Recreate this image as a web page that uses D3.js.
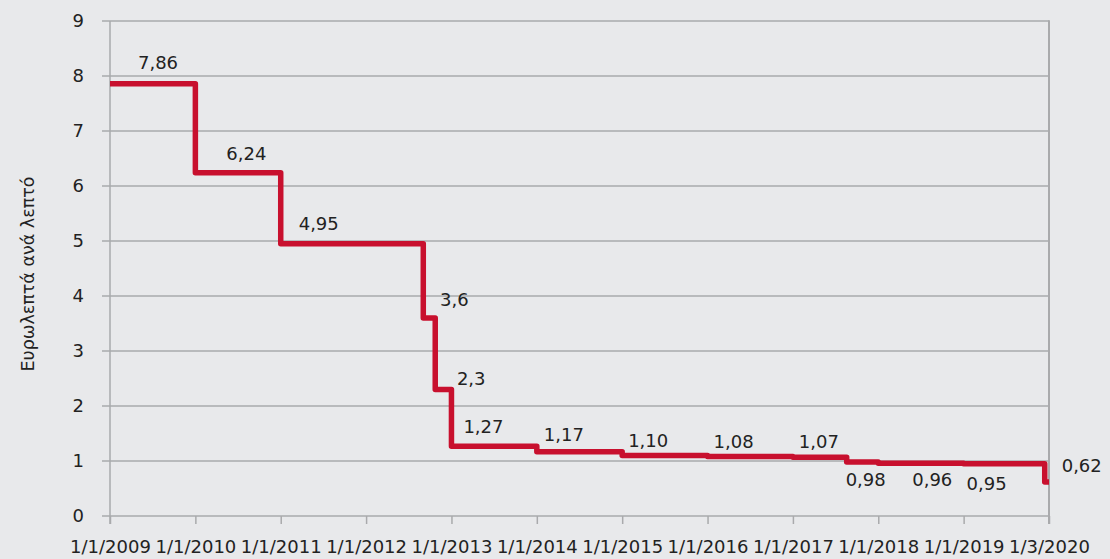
<!DOCTYPE html>
<html><head><meta charset="utf-8">
<script src="https://cdn.jsdelivr.net/npm/d3@7"></script>
<style>
html,body{margin:0;padding:0;background:#e8e9eb;}
svg{display:block;font-family:"DejaVu Sans",sans-serif;}
</style></head>
<body>
<svg id="c" width="1110" height="559"></svg>
<script>
// Data
const tickLabels = ["1/1/2009","1/1/2010","1/1/2011","1/1/2012","1/1/2013","1/1/2014","1/1/2015","1/1/2016","1/1/2017","1/1/2018","1/1/2019","1/3/2020"];
// step start positions (in axis units: 0 = 1/1/2009, 11 = 1/3/2020)
const stepStarts = [0, 1, 2, 3.67, 3.81, 4, 5, 6, 7, 8, 8.63, 9, 10, 10.95];
const stepValues = [7.86, 6.24, 4.95, 3.6, 2.3, 1.27, 1.17, 1.10, 1.08, 1.07, 0.98, 0.96, 0.95, 0.62];
const valueLabels = ["7,86","6,24","4,95","3,6","2,3","1,27","1,17","1,10","1,08","1,07","0,98","0,96","0,95","0,62"];
const yTicks = [0,1,2,3,4,5,6,7,8,9];
const endPos = 11;

// Layout for labels (dx from step start in px, dy from line in px)
const labelPlacement = [[48,-20],[51,-18],[38,-19],[31,-17],[36,-10],[32,-18],[27,-16],[26,-14],[26,-14],[26,-14],[19,19],[54,18],[23,21],[37,-15]];

const svg = d3.select("#c");
const x = d3.scaleLinear().domain([0, endPos]).range([110, 1049]);
const y = d3.scaleLinear().domain([0, 9]).range([516, 21]);
const gridCol = "#a9aaac";

// gridlines
svg.append("g").selectAll("line").data(yTicks).join("line")
  .attr("x1", 102).attr("x2", 1049)
  .attr("y1", d => y(d)).attr("y2", d => y(d))
  .attr("stroke", gridCol).attr("stroke-width", 1.5);

// left axis line
svg.append("line").attr("x1",110).attr("x2",110).attr("y1",y(9)).attr("y2",y(0)+8)
  .attr("stroke",gridCol).attr("stroke-width",1.5);
// right border
svg.append("line").attr("x1",1049).attr("x2",1049).attr("y1",y(9)-0.75).attr("y2",y(0)+8)
  .attr("stroke",gridCol).attr("stroke-width",2);

// bottom axis
const xAxis = d3.axisBottom(x).tickValues(d3.range(tickLabels.length))
  .tickFormat(i => tickLabels[i]).tickSize(8).tickPadding(16);
const gx = svg.append("g").attr("transform", `translate(0,${y(0)})`).call(xAxis);
gx.select(".domain").remove();
gx.selectAll(".tick line").attr("stroke", gridCol).attr("stroke-width",1.5);
gx.selectAll(".tick text").attr("fill","#222").attr("font-size",18).attr("font-family","DejaVu Sans");

// left axis labels
const yAxis = d3.axisLeft(y).tickValues(yTicks).tickSize(0).tickPadding(26);
const gy = svg.append("g").attr("transform","translate(110,0)").call(yAxis);
gy.select(".domain").remove();
gy.selectAll(".tick text").attr("fill","#222").attr("font-size",18).attr("font-family","DejaVu Sans");

// y title
svg.append("text").attr("transform","translate(34,274) rotate(-90)")
  .attr("text-anchor","middle").attr("font-size",17.5).attr("fill","#222")
  .text("Ευρωλεπτά ανά λεπτό");

// step line
const pts = [];
stepStarts.forEach((s,i) => {
  const e = i < stepStarts.length-1 ? stepStarts[i+1] : endPos;
  pts.push([s, stepValues[i]]);
  pts.push([e, stepValues[i]]);
});
const line = d3.line().x(d => x(d[0])).y(d => y(d[1]));
svg.append("path").attr("d", line(pts)).attr("fill","none")
  .attr("stroke","#c8102e").attr("stroke-width",5.5).attr("stroke-linejoin","round");

// value labels
svg.append("g").selectAll("text").data(valueLabels).join("text")
  .attr("x",(d,i) => x(stepStarts[i]) + labelPlacement[i][0])
  .attr("y",(d,i) => y(stepValues[i]) + labelPlacement[i][1])
  .attr("text-anchor","middle").attr("dominant-baseline","middle")
  .attr("font-size",18).attr("fill","#222").text(d => d);
</script>
</body></html>
